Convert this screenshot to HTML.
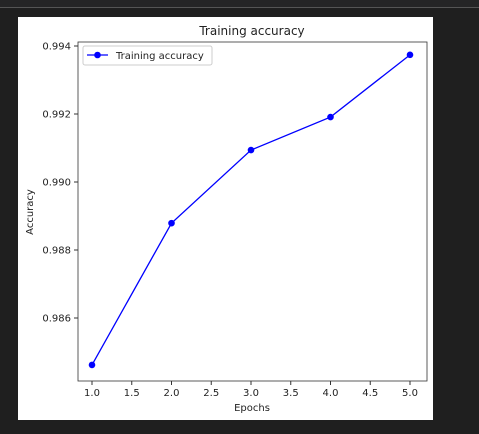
<!DOCTYPE html>
<html><head><meta charset="utf-8"><style>
html,body{margin:0;padding:0;background:#1f1f1f;width:479px;height:434px;overflow:hidden}
svg{display:block;font-family:"DejaVu Sans","Liberation Sans",sans-serif}
</style></head><body>
<svg width="479" height="434">
<rect x="0" y="0" width="479" height="7" fill="#252526"/>
<line x1="0" y1="7.5" x2="479" y2="7.5" stroke="#555"/>
<rect x="18" y="17" width="415" height="403" fill="#fff"/>
<text x="252" y="35" font-size="12" text-anchor="middle" fill="#222">Training accuracy</text>
<text x="252" y="411" font-size="10" text-anchor="middle" fill="#222">Epochs</text>
<text transform="translate(33,212) rotate(-90)" font-size="10" text-anchor="middle" fill="#222">Accuracy</text>
<g id="ticks"></g>
<rect x="78" y="42" width="349" height="339" fill="none" stroke="#333" stroke-width="0.8"/>
<g id="series"></g>
<g>
<rect x="83" y="46" width="129" height="19" rx="2" fill="#fff" stroke="#ccc"/>
<line x1="87" y1="55" x2="108" y2="55" stroke="#0000ff" stroke-width="1.3"/>
<circle cx="97.5" cy="55" r="3.3" fill="#0000ff"/>
<text x="116" y="59" font-size="10" fill="#222">Training accuracy</text>
</g>
</svg>
<script>
const epochs=[1,2,3,4,5];
const accuracy=[0.98462,0.98879,0.99094,0.99191,0.99374];
const xTicks=[1.0,1.5,2.0,2.5,3.0,3.5,4.0,4.5,5.0];
const yTicks=[0.986,0.988,0.990,0.992,0.994];
const NS="http://www.w3.org/2000/svg";
function xs(v){return 92+(v-1)*(410-92)/4;}
function ys(v){return 46+(0.994-v)*34000;}
function mk(t,a,p){const e=document.createElementNS(NS,t);for(const k in a)e.setAttribute(k,a[k]);p.appendChild(e);return e;}
const tg=document.getElementById('ticks');
xTicks.forEach(v=>{
 const l=mk('line',{x1:xs(v),x2:xs(v),y1:381,y2:385,stroke:'#333'},tg);
 
 
 const t=mk('text',{x:xs(v),y:396,'font-size':10,'text-anchor':'middle',fill:'#222'},tg);
 t.textContent=v.toFixed(1);
 
 
});
yTicks.forEach(v=>{
 const l=mk('line',{x1:74,x2:78,y1:ys(v),y2:ys(v),stroke:'#333'},tg);
 
 
 const t=mk('text',{x:71,y:ys(v)+3.5,'font-size':10,'text-anchor':'end',fill:'#222'},tg);
 t.textContent=v.toFixed(3);
 
 
});
const sg=document.getElementById('series');
const pl=mk('polyline',{points:epochs.map((e,i)=>xs(e)+','+ys(accuracy[i])).join(' '),fill:'none',stroke:'#0000ff','stroke-width':1.3},sg);


epochs.forEach((e,i)=>{
 const c=mk('circle',{cx:xs(e),cy:ys(accuracy[i]),r:3.3,fill:'#0000ff'},sg);
 
 
});
</script>
</body></html>
